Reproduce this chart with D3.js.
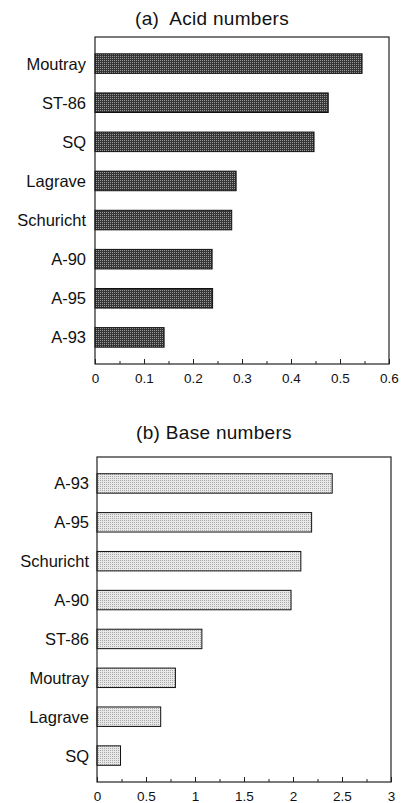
<!DOCTYPE html>
<html>
<head>
<meta charset="utf-8">
<script src="https://cdn.jsdelivr.net/npm/d3@7"></script>
<style>
  body { margin: 0; background: #fff; }
  svg { display: block; font-family: "Liberation Sans", Arial, sans-serif; }
</style>
</head>
<body>
<div id="chart"></div>
<script>
// panel (a) acid numbers
const acidCats = ['Moutray', 'ST-86', 'SQ', 'Lagrave', 'Schuricht', 'A-90', 'A-95', 'A-93'];
const acidVals = [0.545, 0.476, 0.447, 0.288, 0.279, 0.239, 0.240, 0.141];
const acidTicks = [0, 0.1, 0.2, 0.3, 0.4, 0.5, 0.6];

// panel (b) base numbers
const baseCats = ['A-93', 'A-95', 'Schuricht', 'A-90', 'ST-86', 'Moutray', 'Lagrave', 'SQ'];
const baseVals = [2.40, 2.19, 2.08, 1.98, 1.07, 0.80, 0.65, 0.24];
const baseTicks = [0, 0.5, 1, 1.5, 2, 2.5, 3];

const width = 403, height = 803;

const svg = d3.select('#chart').append('svg')
  .attr('width', width)
  .attr('height', height);

// halftone-ish fills
const defs = svg.append('defs');
function stipple(id, base, dot) {
  const p = defs.append('pattern')
    .attr('id', id)
    .attr('width', 2).attr('height', 2)
    .attr('patternUnits', 'userSpaceOnUse');
  p.append('rect').attr('width', 2).attr('height', 2).attr('fill', base);
  p.append('rect').attr('width', 1).attr('height', 1).attr('fill', dot);
}
stipple('darkFill', '#363636', '#9a9a9a');
stipple('lightFill', '#e8e8e8', '#a8a8a8');

function drawPanel(opt) {
  const { cats, vals, ticks, title, titleX, titleY, left, right, top, bottom, labelX, fill } = opt;

  const g = svg.append('g');

  const x = d3.scaleLinear()
    .domain([0, ticks[ticks.length - 1]])
    .range([left, right]);

  const y = d3.scaleBand()
    .domain(cats)
    .range([top, bottom])
    .paddingInner(0.5)
    .paddingOuter(0.43);

  // title (keep the double space)
  g.append('text')
    .attr('x', titleX)
    .attr('y', titleY)
    .attr('text-anchor', 'middle')
    .style('font-size', '19px')
    .style('letter-spacing', '0.3px')
    .style('white-space', 'pre')
    .attr('fill', '#111')
    .text(title);

  // bars
  g.selectAll('rect.bar')
    .data(vals)
    .enter().append('rect')
    .attr('class', 'bar')
    .attr('x', x(0))
    .attr('y', (d, i) => y(cats[i]))
    .attr('width', d => x(d) - x(0))
    .attr('height', y.bandwidth())
    .attr('fill', `url(#${fill})`)
    .attr('stroke', '#111')
    .attr('stroke-width', 1);

  // category labels
  g.selectAll('text.cat')
    .data(cats)
    .enter().append('text')
    .attr('class', 'cat')
    .attr('x', labelX)
    .attr('y', d => y(d) + y.bandwidth() / 2)
    .attr('dy', '0.36em')
    .attr('text-anchor', 'end')
    .style('font-size', '16.5px')
    .attr('fill', '#111')
    .text(d => d);

  // minor ticks (half steps)
  const step = ticks[1] - ticks[0];
  const minor = ticks.slice(0, -1).map(t => t + step / 2);
  const minorAxis = g.append('g')
    .attr('transform', `translate(0,${bottom})`)
    .call(d3.axisBottom(x).tickValues(minor).tickSize(-3).tickFormat(''));
  minorAxis.select('.domain').remove();

  // major ticks + labels
  const axis = g.append('g')
    .attr('transform', `translate(0,${bottom})`)
    .call(d3.axisBottom(x).tickValues(ticks).tickSize(-5).tickPadding(9.5).tickFormat(d3.format('')));
  axis.select('.domain').remove();
  axis.selectAll('text')
    .style('font-size', '13.5px')
    .style('font-family', '"Liberation Sans", Arial, sans-serif')
    .attr('fill', '#111');
  g.selectAll('.tick line').attr('stroke', '#222');

  // frame
  g.append('rect')
    .attr('x', left)
    .attr('y', top)
    .attr('width', right - left)
    .attr('height', bottom - top)
    .attr('fill', 'none')
    .attr('stroke', '#222')
    .attr('stroke-width', 1.2);
}

drawPanel({
  cats: acidCats, vals: acidVals, ticks: acidTicks,
  title: '(a)  Acid numbers', titleX: 212, titleY: 25,
  left: 95, right: 389, top: 37, bottom: 364,
  labelX: 86, fill: 'darkFill'
});

drawPanel({
  cats: baseCats, vals: baseVals, ticks: baseTicks,
  title: '(b) Base numbers', titleX: 214, titleY: 439,
  left: 97, right: 391, top: 457, bottom: 782,
  labelX: 89, fill: 'lightFill'
});
</script>
</body>
</html>
